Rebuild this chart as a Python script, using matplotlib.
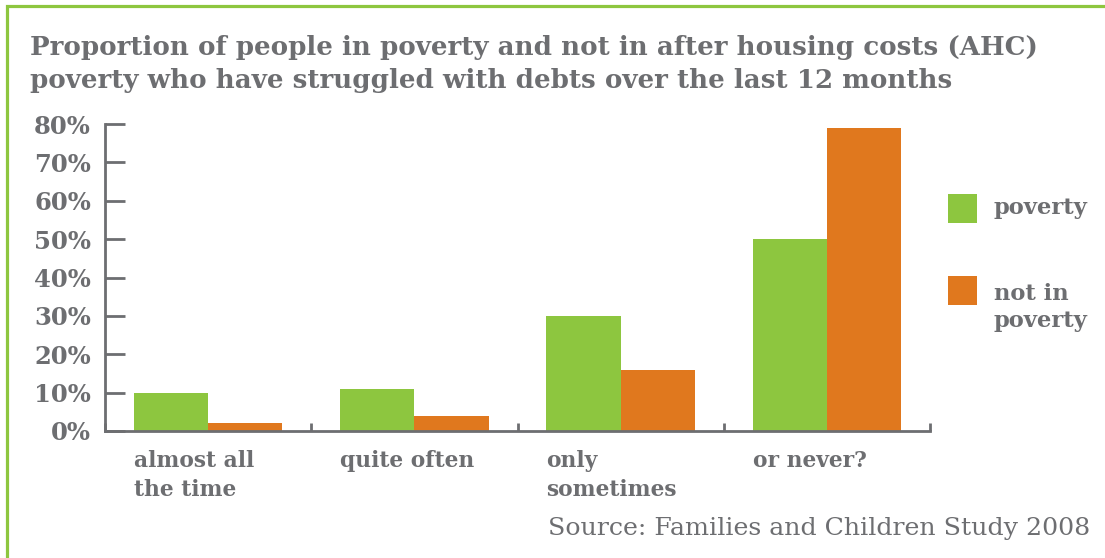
import numpy as np
import matplotlib.pyplot as plt
from matplotlib.lines import Line2D
from matplotlib.patches import Rectangle

# Data
categories = ["almost all\nthe time", "quite often", "only\nsometimes", "or never?"]
poverty = [10, 11, 30, 50]
not_poverty = [2, 4, 16, 79]
series_names = ["poverty", "not in\npoverty"]
yticks = [0, 10, 20, 30, 40, 50, 60, 70, 80]
title_lines = ["Proportion of people in poverty and not in after housing costs (AHC)",
               "poverty who have struggled with debts over the last 12 months"]

GREEN = "#8dc63f"
ORANGE = "#e0781e"
GREY = "#6d6e71"
FONT = "DejaVu Serif"

plt.rcParams["font.family"] = FONT

W, H = 1105, 558
fig = plt.figure(figsize=(W / 100, H / 100), dpi=100)
ax = fig.add_axes([105 / W, 1 - 431 / H, 825 / W, 307 / H])

x = np.arange(len(categories))
bw = 0.36
ax.bar(x - bw / 2, poverty, width=bw, color=GREEN, linewidth=0)
ax.bar(x + bw / 2, not_poverty, width=bw, color=ORANGE, linewidth=0)

ax.set_xlim(-0.5, len(categories) - 0.5)
ax.set_ylim(0, 80)

for side in ("top", "right"):
    ax.spines[side].set_visible(False)
for side in ("left", "bottom"):
    ax.spines[side].set_color(GREY)
    ax.spines[side].set_linewidth(2)

# y axis: long inward ticks
ax.set_yticks(yticks)
ax.set_yticklabels([f"{v}%" for v in yticks])
ax.tick_params(axis="y", direction="in", length=14.5, width=2, color=GREY,
               pad=10, labelsize=17.5, labelcolor=GREY)
for lab in ax.get_yticklabels():
    lab.set_fontweight("bold")

# x axis: short ticks between groups, labels left-aligned under the bars
ax.set_xticks(np.arange(len(categories) + 1) - 0.5)
ax.set_xticklabels([])
ax.tick_params(axis="x", which="major", direction="in", length=6, width=2, color=GREY)
ax.set_xticks(x - bw, minor=True)
ax.set_xticklabels(categories, minor=True)
ax.tick_params(axis="x", which="minor", length=0, pad=14, labelsize=15.7, labelcolor=GREY)
for lab in ax.get_xticklabels(minor=True):
    lab.set_ha("left")
    lab.set_va("top")
    lab.set_fontweight("bold")
    lab.set_linespacing(1.38)

# title, one line at a time
for base, line in zip([55, 88], title_lines):
    fig.text(30 / W, 1 - base / H, line, ha="left", va="baseline",
             fontsize=18.8, fontweight="bold", color=GREY)

# legend keys (baseline given for the last line of each label)
for (top, base, name, col) in [(194, 214, series_names[0], GREEN),
                               (276, 327, series_names[1], ORANGE)]:
    fig.add_artist(Rectangle((948 / W, 1 - (top + 29) / H), 29 / W, 29 / H,
                             transform=fig.transFigure, color=col, lw=0))
    fig.text(994 / W, 1 - base / H, name, ha="left", va="baseline", fontsize=16.3,
             fontweight="bold", color=GREY, linespacing=1.32)

# source note
fig.text(1090 / W, 1 - 528 / H, "Source: Families and Children Study 2008",
         ha="right", va="center", fontsize=18.2, color=GREY)

# green frame on top and left edges
fig.add_artist(Line2D([6.5 / W, 6.5 / W, 1], [0, 1 - 5.5 / H, 1 - 5.5 / H],
                      transform=fig.transFigure, color=GREEN, lw=2.3,
                      solid_joinstyle="miter"))

fig.savefig("out.png", dpi=100)
